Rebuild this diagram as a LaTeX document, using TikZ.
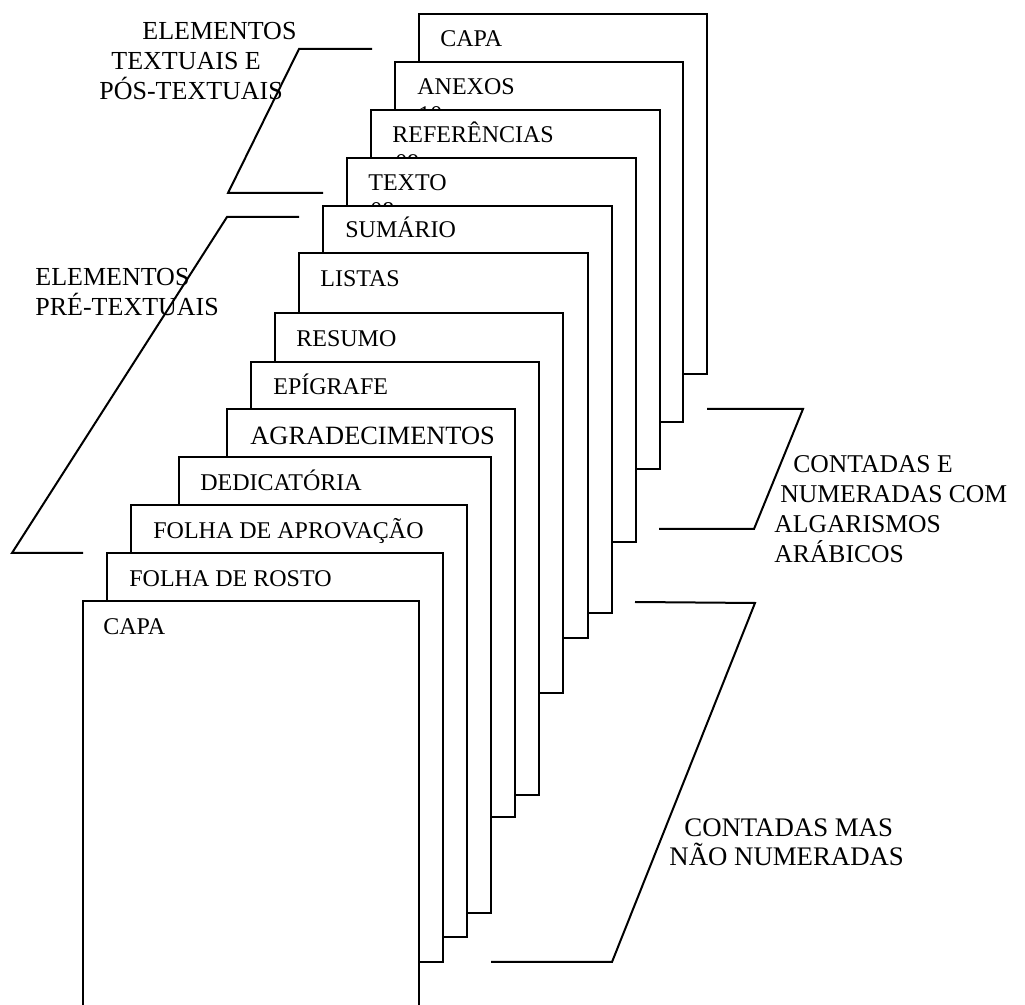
\documentclass[tikz,border=0pt]{standalone}
\usepackage{fontspec}
\setmainfont{Liberation Serif}
\tikzset{
  folha/.style={draw, fill=white, line width=1pt},
  chave/.style={line width=1pt},
  rotulo/.style={anchor=base west, inner sep=0pt, font=\fontsize{12}{14}\selectfont},
  lado/.style={anchor=north west, inner sep=0pt, align=left, font=\fontsize{13}{15}\selectfont}
}

\begin{document}
\begin{tikzpicture}[x=0.5pt,y=-0.5pt]
        \useasboundingbox (0,0) rectangle (1025,1005);
        \clip (0,0) rectangle (1025,1005);

        % folhas, de tras para a frente
        \draw[folha] (419,14) rectangle (707,374);
        \node[rotulo] (capafim) at (440,47) {CAPA};
        \draw[folha] (395,62) rectangle (683,422);
        \node[rotulo] (anexos) at (417,95) {ANEXOS};
        \node[rotulo] (anexosnum) at (418,123) {10};
        \draw[folha] (371,110) rectangle (660,469);
        \node[rotulo] (referencias) at (392,143) {REFERÊNCIAS};
        \node[rotulo] (referenciasnum) at (395,171) {09};
        \draw[folha] (347,158) rectangle (636,542);
        \node[rotulo] (texto) at (368,191) {TEXTO};
        \node[rotulo] (textonum) at (370,219) {08};
        \draw[folha] (323,206) rectangle (612,613);
        \node[rotulo] (sumario) at (345,238) {SUMÁRIO};
        \draw[folha] (299,253) rectangle (588,638);
        \node[rotulo] (listas) at (320,287) {LISTAS};
        \draw[folha] (275,313) rectangle (563,693);
        \node[rotulo] (resumo) at (296,347) {RESUMO};
        \draw[folha] (251,362) rectangle (539,795);
        \node[rotulo] (epigrafe) at (273,395) {EPÍGRAFE};
        \draw[folha] (227,409) rectangle (515,817);
        \node[rotulo, font=\fontsize{13.2}{16}\selectfont] (agradecimentos) at (250,445) {AGRADECIMENTOS};
        \draw[folha] (179,457) rectangle (491,913);
        \node[rotulo] (dedicatoria) at (200,491) {DEDICATÓRIA};
        \draw[folha] (131,505) rectangle (467,937);
        \node[rotulo] (aprovacao) at (153,539) {FOLHA DE APROVAÇÃO};
        \draw[folha] (107,553) rectangle (443,962);
        \node[rotulo] (rosto) at (129,587) {FOLHA DE ROSTO};
        \draw[folha] (83,601) rectangle (419,1030);
        \node[rotulo] (capa) at (103,635) {CAPA};

        % chaves
        \draw[chave] (372,49) -- (299,49) -- (228,193) -- (323,193);
        \draw[chave] (299,217) -- (227,217) -- (12,553) -- (83,553);
        \draw[chave] (707,409) -- (803,409) -- (754,529) -- (659,529);
        \draw[chave] (635,602) -- (755,603) -- (612,962) -- (491,962);

        \node[lado] (postextuais) at (99,22) {\hspace*{21.5pt}ELEMENTOS\\\hspace*{6pt}TEXTUAIS E\\PÓS-TEXTUAIS};
        \node[lado] (pretextuais) at (35,268) {ELEMENTOS\\PRÉ-TEXTUAIS};
        \node[lado, font=\fontsize{12.8}{15}\selectfont] (numeradas) at (774,455) {\hspace*{9.5pt}CONTADAS E\\\hspace*{3pt}NUMERADAS COM\\ALGARISMOS\\ARÁBICOS};
        \node[lado, font=\fontsize{13.4}{14.5}\selectfont] (naonumeradas) at (669,818) {\hspace*{7.5pt}CONTADAS MAS\\NÃO NUMERADAS};
\end{tikzpicture}
\end{document}
